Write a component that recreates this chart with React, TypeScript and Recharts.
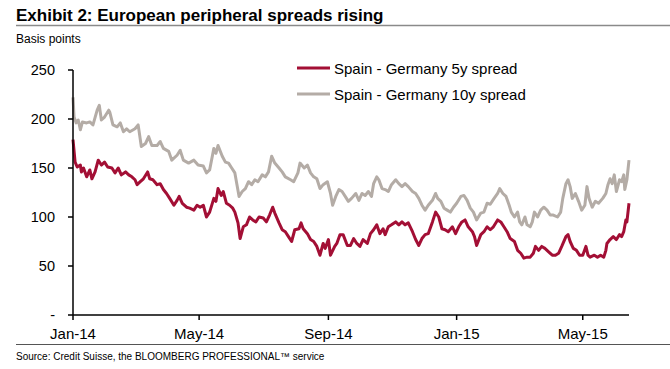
import React from "react";
import { LineChart, Line, XAxis, YAxis } from "recharts";

// Days counted from 1 Jan 2014
const days10 = [0,1,3,5,7,9,13,16,19,23,25,27,30,34,35,38,42,45,48,51,54,59,62,65,69,72,75,80,83,86,91,94,99,102,105,110,115,119,124,127,130,134,136,138,142,145,148,151,154,156,158,161,164,167,170,173,176,180,183,186,189,192,196,199,202,207,210,214,216,220,223,226,229,232,235,238,242,245,247,250,253,256,259,262,265,269,272,275,278,281,284,286,289,291,294,297,300,303,307,310,313,316,319,323,326,329,332,335,338,342,345,347,350,353,356,359,362,365,369,372,375,378,381,384,388,391,394,397,400,404,406,409,412,415,417,420,423,425,427,430,432,435,437,439,442,445,448,451,454,457,461,464,466,469,471,473,475,478,481,484,487,489,491,494,497,500,504,507,509,511,513,515,517,520,522,524,525,527,529];
const spread10 = [222,202,196,199,189,197,196,197,194,209,214,199,202,209,207,194,192,196,187,190,187,190,194,172,175,182,173,173,177,170,167,158,163,168,158,155,158,153,152,145,148,170,165,173,162,156,155,150,145,133,121,126,129,136,133,138,136,143,141,146,162,155,150,146,141,138,136,145,155,150,153,145,141,139,129,133,136,124,112,121,128,126,121,116,119,124,117,124,122,126,121,134,141,138,129,128,126,133,138,134,131,134,131,126,124,119,112,107,112,117,124,119,116,109,107,105,110,114,121,122,117,109,105,97,104,105,114,113,118,124,129,124,121,112,105,100,105,95,92,100,92,90,95,105,100,107,110,107,102,102,100,105,119,134,138,131,119,124,116,107,112,131,119,110,116,114,119,124,133,139,134,143,126,138,136,143,128,138,158];

const days5 = [0,2,4,7,8,10,13,16,18,21,24,27,30,33,37,40,43,46,50,53,56,59,61,64,67,71,73,76,80,83,86,89,92,96,99,101,104,108,111,115,118,121,124,127,130,134,136,138,141,143,146,149,152,154,157,159,162,165,168,171,174,177,181,184,187,190,192,196,199,202,205,208,211,215,217,219,223,226,229,232,235,238,240,243,245,249,251,254,257,261,264,267,270,273,276,280,283,286,289,292,295,297,300,303,307,310,313,316,319,323,326,329,332,335,338,342,345,348,351,354,357,361,364,367,370,373,376,380,382,384,388,391,394,397,400,404,407,410,413,416,420,423,426,429,432,435,438,440,443,446,449,452,456,459,462,465,469,471,473,476,479,482,485,488,490,492,496,499,502,505,507,508,511,514,517,520,522,524,526,527,529];
const spread5 = [179,156,151,153,146,150,141,148,139,146,158,153,156,151,150,145,150,143,146,143,141,138,133,136,139,146,139,138,133,134,128,124,119,112,117,121,114,110,109,107,112,110,112,100,105,119,116,129,122,126,114,112,109,105,94,78,90,92,100,97,95,100,99,95,102,110,104,94,87,85,80,75,87,88,94,88,83,77,75,70,61,73,68,77,61,70,73,82,82,71,71,78,73,70,77,73,83,87,92,83,88,82,90,92,95,92,95,92,94,85,77,71,78,82,83,95,105,100,88,87,85,90,83,90,95,97,90,85,80,71,82,85,90,87,90,97,95,90,85,78,75,66,63,58,59,59,63,70,66,70,68,65,61,61,63,70,80,82,75,68,66,61,61,70,61,59,61,59,61,59,66,73,77,80,77,82,80,85,97,95,114];

const xTickDays = [0, 120, 243, 365, 485];
const xTickLabels = ["Jan-14", "May-14", "Sep-14", "Jan-15", "May-15"];
const yTicks = [0, 50, 100, 150, 200, 250];

const seriesNames = ["Spain - Germany 5y spread", "Spain - Germany 10y spread"];
const RED = "#a30f35";
const GREY = "#b4aca6";

function buildTable() {
  const map = new Map<number, any>();
  days5.forEach((d, i) => {
    const r = map.get(d) || { d };
    r.s5 = spread5[i];
    map.set(d, r);
  });
  days10.forEach((d, i) => {
    const r = map.get(d) || { d };
    r.s10 = spread10[i];
    map.set(d, r);
  });
  return Array.from(map.values()).sort((a, b) => a.d - b.d);
}
const table = buildTable();

const FONT = "'Liberation Sans', Arial, sans-serif";
const legendItems = [
  { name: seriesNames[0], color: RED },
  { name: seriesNames[1], color: GREY },
];

export default function App() {
  return (
    <div style={{ position: "absolute", left: 0, top: 0, width: 670, height: 369, background: "#fff", fontFamily: FONT }}>
      <div style={{ position: "absolute", left: 0, top: 0 }}>
        <LineChart width={670} height={369} data={table} margin={{ top: 70, right: 41, bottom: 24, left: 13 }}>
          <XAxis
            dataKey="d"
            type="number"
            domain={[0, 529]}
            ticks={xTickDays}
            tickFormatter={(v: number) => xTickLabels[xTickDays.indexOf(v)] ?? ""}
            height={30}
            tickSize={5}
            tickMargin={8}
            axisLine={{ stroke: "#000", strokeWidth: 1.5 }}
            tickLine={{ stroke: "#000", strokeWidth: 1.5 }}
            tick={{ fill: "#000", fontSize: 15, fontFamily: FONT }}
            interval={0}
          />
          <YAxis
            type="number"
            domain={[0, 250]}
            ticks={yTicks}
            tickFormatter={(v: number) => (v === 0 ? "-" : String(v))}
            width={60}
            tickSize={5}
            tickMargin={13}
            axisLine={{ stroke: "#000", strokeWidth: 1.5 }}
            tickLine={{ stroke: "#000", strokeWidth: 1.5 }}
            tick={{ fill: "#000", fontSize: 14.5, fontFamily: FONT }}
            interval={0}
          />
          <Line dataKey="s10" name={seriesNames[1]} stroke={GREY} strokeWidth={3} dot={false} connectNulls isAnimationActive={false} strokeLinejoin="round" />
          <Line dataKey="s5" name={seriesNames[0]} stroke={RED} strokeWidth={3} dot={false} connectNulls isAnimationActive={false} strokeLinejoin="round" />
        </LineChart>
      </div>
      <svg width={670} height={369} style={{ position: "absolute", left: 0, top: 0, pointerEvents: "none" }}>
        <text x={16} y={21} fontSize={17} fontWeight="bold" fill="#000" fontFamily={FONT}>
          Exhibit 2: European peripheral spreads rising
        </text>
        <line x1={16} x2={670} y1={25.5} y2={25.5} stroke="#8a8a8a" strokeWidth={1.5} />
        <text x={16} y={43} fontSize={12} fill="#000" fontFamily={FONT}>Basis points</text>
        {legendItems.map((it, i) => (
          <g key={i}>
            <line x1={297} x2={330} y1={68 + i * 26} y2={68 + i * 26} stroke={it.color} strokeWidth={3} />
            <text x={334} y={73.5 + i * 26} fontSize={15} fill="#000" fontFamily={FONT}>
              {it.name}
            </text>
          </g>
        ))}
        <line x1={16} x2={670} y1={344.5} y2={344.5} stroke="#555" strokeWidth={1} />
        <text x={16} y={360} fontSize={10} fill="#000" fontFamily={FONT}>
          Source: Credit Suisse, the BLOOMBERG PROFESSIONAL™ service
        </text>
      </svg>
    </div>
  );
}
